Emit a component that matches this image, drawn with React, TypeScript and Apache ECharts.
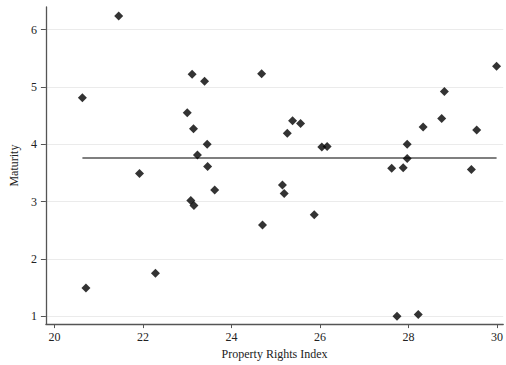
import React, { useEffect, useRef } from "react";
import * as echarts from "echarts";

// Property Rights Index (x) against Maturity (y), one entry per observation
const propertyRights: number[] = [
  21.45, 20.63, 23.11, 23.39, 23.0, 23.14, 23.45, 23.23, 23.46, 21.92,
  24.68, 29.99, 28.81, 25.38, 25.56, 25.26, 28.75, 28.33, 29.54, 26.04,
  26.16, 27.97, 27.97, 27.62, 27.88, 29.42, 23.62, 23.08, 23.15, 22.28,
  20.71, 24.7, 25.15, 25.19, 25.87, 27.74, 28.22,
];
const maturity: number[] = [
  6.24, 4.81, 5.22, 5.1, 4.55, 4.27, 4.0, 3.81, 3.61, 3.49,
  5.23, 5.36, 4.92, 4.41, 4.36, 4.19, 4.45, 4.3, 4.25, 3.95,
  3.96, 4.0, 3.75, 3.58, 3.59, 3.56, 3.2, 3.02, 2.93, 1.75,
  1.49, 2.59, 3.29, 3.14, 2.77, 1.0, 1.03,
];
// Flat fitted line across the observed x range
const fitLevel = 3.76;

const xTicks: number[] = [20, 22, 24, 26, 28, 30];
const yTicks: number[] = [1, 2, 3, 4, 5, 6];

const FONT = "'Liberation Serif', 'DejaVu Serif', serif";

export default function App() {
  const ref = useRef<HTMLDivElement>(null);

  useEffect(() => {
    if (!ref.current) return;
    const chart = echarts.init(ref.current, undefined, { renderer: "svg" });

    const points = propertyRights.map((x, i) => [x, maturity[i]]);
    const xMin = Math.min(...propertyRights);
    const xMax = Math.max(...propertyRights);

    chart.setOption({
      animation: false,
      backgroundColor: "#ffffff",
      textStyle: { fontFamily: FONT },
      grid: { left: 44, top: 7, right: 0, bottom: 40, containLabel: false },
      xAxis: {
        type: "value",
        min: 19.805,
        max: 30.14,
        name: "Property Rights Index",
        nameLocation: "middle",
        nameGap: 21,
        nameTextStyle: { fontFamily: FONT, fontSize: 12, color: "#222" },
        axisLine: { show: true, onZero: false, lineStyle: { color: "#555", width: 1.3 } },
        axisTick: {
          show: true,
          length: 4,
          customValues: xTicks,
          lineStyle: { color: "#555", width: 1 },
        },
        axisLabel: {
          customValues: xTicks,
          margin: 7,
          fontFamily: FONT,
          fontSize: 12,
          color: "#222",
        },
        splitLine: { show: false },
      },
      yAxis: {
        type: "value",
        min: 0.861,
        max: 6.395,
        name: "Maturity",
        nameLocation: "middle",
        nameGap: 24,
        nameRotate: 90,
        nameTextStyle: { fontFamily: FONT, fontSize: 12, color: "#222" },
        axisLine: { show: true, onZero: false, lineStyle: { color: "#555", width: 1.3 } },
        axisTick: {
          show: true,
          length: 5,
          customValues: yTicks,
          lineStyle: { color: "#555", width: 1 },
        },
        axisLabel: {
          customValues: yTicks,
          margin: 9,
          fontFamily: FONT,
          fontSize: 12,
          color: "#222",
        },
        splitLine: { show: true, lineStyle: { color: "#ebebeb", width: 1 } },
      },
      series: [
        {
          type: "line",
          data: [
            [xMin, fitLevel],
            [xMax, fitLevel],
          ],
          symbol: "none",
          lineStyle: { color: "#000", width: 1.2 },
          silent: true,
          z: 2,
        },
        {
          type: "scatter",
          data: points,
          symbol: "diamond",
          symbolSize: 9,
          itemStyle: { color: "#000" },
          z: 3,
        },
      ],
    });

    return () => chart.dispose();
  }, []);

  return (
    <div
      ref={ref}
      style={{ position: "fixed", left: 0, top: 0, width: 506, height: 365 }}
    />
  );
}
